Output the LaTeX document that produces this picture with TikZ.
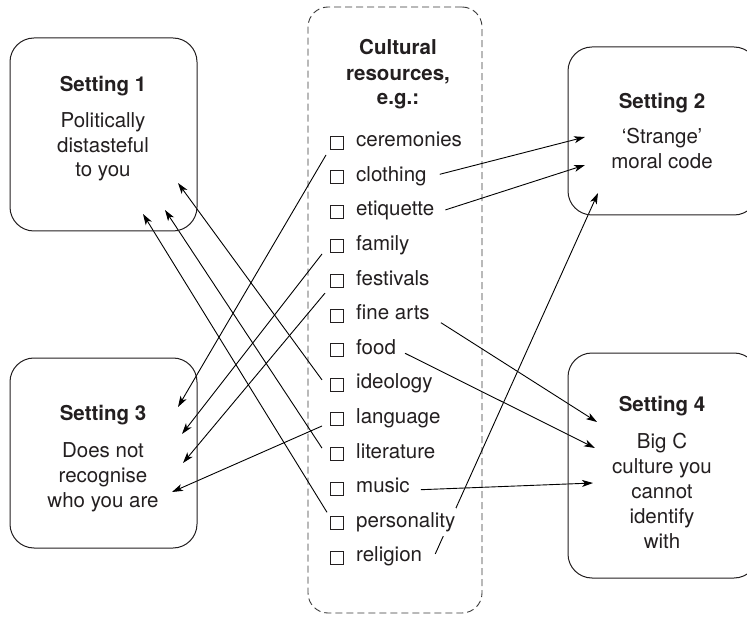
\documentclass[tikz,border=0pt]{standalone}
\usepackage{fontspec}
\setmainfont{TeX Gyre Heros}
\usetikzlibrary{arrows.meta}
\definecolor{txt}{HTML}{231F20}
\definecolor{dashc}{HTML}{3A3A3A}
\pgfdeclarelayer{bg}
\pgfsetlayers{bg,main}
\begin{document}
\begin{tikzpicture}[x=1pt,y=-1pt,
  every node/.style={font=\fontsize{20.5}{24}\selectfont, text=txt},
  sbox/.style={draw=txt, line width=1pt, rounded corners=24pt, inner sep=0pt},
  dbox/.style={draw=dashc, line width=0.9pt, dash pattern=on 7pt off 4pt, rounded corners=20pt, inner sep=0pt},
  ttl/.style={anchor=base, font=\fontsize{20.5}{24}\selectfont\bfseries},
  body/.style={anchor=base},
  item/.style={anchor=base west, fill=white, inner xsep=1pt, inner ysep=4pt},
  chk/.style={draw=txt, line width=0.8pt, minimum size=13pt, inner sep=0pt},
  arr/.style={draw=black, line width=0.9pt, -{Stealth[length=11pt,width=7pt,inset=3pt]}}]
\useasboundingbox (0,0) rectangle (747,620);
\clip (0,0) rectangle (747,620);

% boxes
\node[sbox, minimum width=187pt, minimum height=193pt] (s1) at (103.5,134.5) {};
\node[sbox, minimum width=190pt, minimum height=168pt] (s2) at (663,131) {};
\node[sbox, minimum width=187pt, minimum height=190pt] (s3) at (103.5,453) {};
\node[sbox, minimum width=190pt, minimum height=225pt] (s4) at (663,465.5) {};
\begin{pgfonlayer}{bg}
\node[dbox, minimum width=174pt, minimum height=606pt] (res) at (395,310) {};
\end{pgfonlayer}

% setting texts
\node[ttl] (s1t) at (103,92) {Setting 1};
\node[body] (s1a) at (103,128) {Politically};
\node[body] (s1b) at (103,152.5) {distasteful};
\node[body] (s1c) at (103,177) {to you};

\node[ttl] (s2t) at (662,109) {Setting 2};
\node[body] (s2a) at (662,144) {‘Strange’};
\node[body] (s2b) at (662,168.5) {moral code};

\node[ttl] (s3t) at (103,420) {Setting 3};
\node[body] (s3a) at (103,457) {Does not};
\node[body] (s3b) at (103,482) {recognise};
\node[body] (s3c) at (103,507) {who you are};

\node[ttl] (s4t) at (662,411) {Setting 4};
\node[body] (s4a) at (662,448) {Big C};
\node[body] (s4b) at (662,473) {culture you};
\node[body] (s4c) at (662,498) {cannot};
\node[body] (s4d) at (662,523) {identify};
\node[body] (s4e) at (662,548) {with};

% resources title
\node[ttl] (rt1) at (398,55) {Cultural};
\node[ttl] (rt2) at (398,80.5) {resources,};
\node[ttl] (rt3) at (398,105) {e.g.:};

% items
\foreach \nm/\tx [count=\i from 0] in {cer/ceremonies, clo/clothing, eti/etiquette, fam/family, fes/festivals, fin/fine arts, foo/food, ide/ideology, lan/language, lit/literature, mus/music, per/personality, rel/religion} {
  \node[chk] (c-\nm) at (336.5,{146.7+34.6*\i-4.2}) {};
  \node[item] (i-\nm) at (355,{146.7+34.6*\i}) {\tx};
}

% arrow tips
\coordinate (t-s3a) at (178,407);
\coordinate (t-s3b) at (182,434);
\coordinate (t-s3c) at (183,463);
\coordinate (t-s3d) at (172,492);
\coordinate (t-s1a) at (178,183);
\coordinate (t-s1b) at (165,210);
\coordinate (t-s1c) at (143,214);
\coordinate (t-s2a) at (585,137);
\coordinate (t-s2b) at (585,165);
\coordinate (t-s2c) at (598,193);
\coordinate (t-s4a) at (597,422);
\coordinate (t-s4b) at (595,448);
\coordinate (t-s4c) at (593,483);

\begin{pgfonlayer}{bg}
\draw[arr] ([shift={(-29,8.3)}]i-cer.base west) -- (t-s3a);
\draw[arr] ([shift={(-33,3.5)}]i-fam.base west) -- (t-s3b);
\draw[arr] ([shift={(-30,8)}]i-fes.base west) -- (t-s3c);
\draw[arr] ([shift={(-33,2.5)}]i-lan.base west) -- (t-s3d);
\draw[arr] ([shift={(-33,-9)}]i-ide.base west) -- (t-s1a);
\draw[arr] ([shift={(-33,-10)}]i-lit.base west) -- (t-s1b);
\draw[arr] ([shift={(-28,-15)}]i-per.base west) -- (t-s1c);
\draw[arr] ([shift={(12,-7)}]i-clo.base east) -- (t-s2a);
\draw[arr] ([shift={(10,-6)}]i-eti.base east) -- (t-s2b);
\draw[arr] ([shift={(12,-8)}]i-rel.base east) -- (t-s2c);
\draw[arr] ([shift={(10,3)}]i-fin.base east) -- (t-s4a);
\draw[arr] ([shift={(8,-1)}]i-foo.base east) -- (t-s4b);
\draw[arr] ([shift={(10,-3)}]i-mus.base east) -- (t-s4c);
\end{pgfonlayer}
\end{tikzpicture}
\end{document}
